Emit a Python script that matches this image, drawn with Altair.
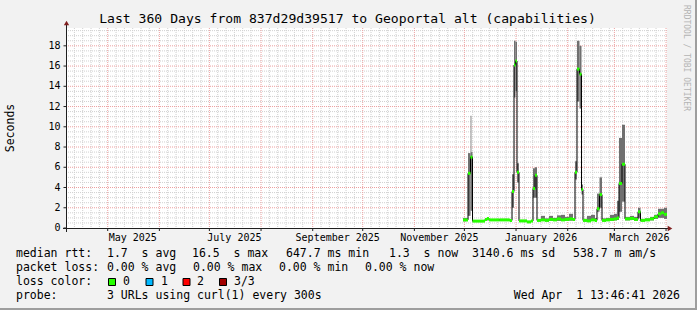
import altair as alt
import pandas as pd
from datetime import datetime, timedelta

# ---------------- data ----------------
WINDOW_END = datetime(2026, 4, 1, 13, 46, 41)
SPAN_DAYS = 360
WINDOW_START = WINDOW_END - timedelta(days=SPAN_DAYS)

# step boundaries, in days since the start of the 360-day window
step_edges = [237.6, 239.4, 240.6, 242.1, 243.3, 250.8, 252.0, 253.2, 259.5, 265.8,
              267.0, 268.2, 269.1, 270.0, 271.2, 276.0, 278.4, 279.6, 280.8, 282.0,
              284.4, 286.8, 289.2, 291.6, 294.0, 296.4, 298.8, 301.2, 303.6, 304.8,
              306.0, 307.5, 308.7, 309.6, 312.0, 314.4, 316.8, 318.0, 319.5, 321.0,
              323.4, 325.8, 328.2, 330.0, 331.2, 333.0, 334.8, 337.8, 340.2, 342.6,
              344.1, 346.8, 349.8, 352.2, 354.6, 356.4, 358.2, 360.0]
# median rtt per step (seconds)
median_s = [0.80, 0.80, 5.4, 7.0, 0.68, 0.85, 0.95, 0.80, 0.80, 0.75,
            3.6, 16.1, 16.5, 5.5, 0.70, 0.60, 0.70, 3.9, 5.2, 0.75,
            0.80, 0.75, 0.85, 0.80, 0.90, 0.80, 0.85, 0.90, 0.85, 5.5,
            15.7, 15.2, 3.8, 0.75, 0.70, 0.80, 0.75, 1.9, 3.3, 0.75,
            0.80, 0.85, 0.90, 1.0, 4.4, 6.3, 0.90, 0.95, 0.85, 1.6,
            0.75, 0.80, 0.90, 1.1, 1.4, 1.5, 1.35]
# smoke (spread of the pings) per step
smoke_lo = [0.65, 0.70, 1.2, 1.7, 0.62, 0.70, 0.75, 0.70, 0.70, 0.65,
            2.0, 12.9, 13.5, 4.5, 0.62, 0.55, 0.62, 3.0, 3.0, 0.65,
            0.70, 0.65, 0.70, 0.70, 0.70, 0.70, 0.70, 0.72, 0.70, 4.8,
            12.5, 11.8, 3.3, 0.65, 0.62, 0.70, 0.65, 1.6, 2.0, 0.65,
            0.70, 0.70, 0.75, 0.80, 1.6, 2.6, 0.75, 0.80, 0.72, 1.0,
            0.65, 0.70, 0.75, 0.90, 1.0, 1.0, 0.90]
smoke_hi = [1.0, 1.0, 7.4, 7.5, 0.76, 0.95, 1.05, 0.88, 0.90, 0.90,
            5.3, 18.5, 18.4, 6.4, 0.80, 0.70, 0.80, 5.9, 6.0, 0.85,
            1.2, 0.95, 1.2, 1.0, 1.25, 1.3, 1.1, 1.4, 1.0, 6.6,
            18.5, 18.0, 4.3, 0.90, 1.2, 1.3, 1.0, 3.4, 5.0, 0.95,
            1.0, 1.3, 1.4, 2.7, 8.9, 10.2, 1.1, 1.2, 1.1, 2.0,
            0.90, 0.95, 1.1, 1.3, 1.9, 1.9, 2.0]
# single-sample peaks above the smoke
peak_day = [242.4]
peak_s = [11.1]

y_ticks = [0, 2, 4, 6, 8, 10, 12, 14, 16, 18]
label_months = [(2025, 5), (2025, 7), (2025, 9), (2025, 11), (2026, 1), (2026, 3)]
month_names = ["May 2025", "July 2025", "September 2025", "November 2025",
               "January 2026", "March 2026"]
minor_month_days = [6, 11, 16, 21, 26]
Y_MAX = 19.76

loss_labels = ["0", "1", "2", "3/3"]
loss_colors = ["#26ff00", "#00b8ff", "#ff0000", "#a10000"]

NB = "\u00a0"
legend_rtt = ["1.7" + NB + NB + "s avg", "16.5" + NB + NB + "s max", "647.7 ms min",
              "1.3" + NB + NB + "s now", "3140.6 ms sd", "538.7 m am/s"]
legend_loss = ["0.00 % avg", "0.00 % max", "0.00 % min", "0.00 % now"]
probe_text = "3 URLs using curl(1) every 300s"
stamp_text = "Wed Apr" + NB + NB + "1 13:46:41 2026"
title_text = "Last 360 Days from 837d29d39517 to Geoportal alt (capabilities)"

# ---------------- helpers ----------------
W, H = 600, 200
PAD_L, PAD_T, PAD_R, PAD_B = 67, 28, 30, 82
MONO = "DejaVu Sans Mono"
ONE = pd.DataFrame({"k": [0]})


def day_of(dt):
    return (dt - WINDOW_START).total_seconds() / 86400.0


def px(x):
    return x - PAD_L


def py(y):
    return y - PAD_T


X_SCALE = alt.Scale(domain=[0, SPAN_DAYS], nice=False, zero=False)
Y_SCALE = alt.Scale(domain=[0, Y_MAX], nice=False, zero=False)


def text(s, x, y, size=11.5, align="left", color="#000000", angle=None):
    kw = dict(text=s, font=MONO, fontSize=size, align=align, baseline="middle", color=color)
    if angle is not None:
        kw["angle"] = angle
    return alt.Chart(ONE).mark_text(**kw).encode(x=alt.value(px(x)), y=alt.value(py(y)))


def box(x0, x1, y0, y1, fill, stroke=None):
    kw = dict(color=fill)
    if stroke:
        kw = dict(fill=fill, stroke=stroke, strokeWidth=1)
    return alt.Chart(ONE).mark_rect(**kw).encode(
        x=alt.value(px(x0)), x2=alt.value(px(x1)), y=alt.value(py(y0)), y2=alt.value(py(y1)))


# ---------------- tables ----------------
steps = pd.DataFrame({
    "start": step_edges[:-1], "end": step_edges[1:],
    "med": median_s, "lo": smoke_lo, "hi": smoke_hi,
})
line_df = pd.DataFrame({"d": step_edges, "med": median_s + [median_s[-1]]})
peaks = pd.DataFrame({"start": [d - 0.3 for d in peak_day], "end": [d + 0.3 for d in peak_day],
                      "lo": [smoke_hi[next(i for i, e in enumerate(step_edges[1:]) if e > d)] for d in peak_day],
                      "hi": peak_s})

month_starts = []
y, m = WINDOW_START.year, WINDOW_START.month
while True:
    dt = datetime(y, m, 1)
    if dt > WINDOW_END:
        break
    if dt >= WINDOW_START:
        month_starts.append(day_of(dt))
    m += 1
    if m > 12:
        m, y = 1, y + 1

minor_days = []
y, m = WINDOW_START.year, WINDOW_START.month
while True:
    if datetime(y, m, 1) > WINDOW_END:
        break
    for dd in minor_month_days:
        dt = datetime(y, m, dd)
        if WINDOW_START <= dt <= WINDOW_END:
            minor_days.append(day_of(dt))
    m += 1
    if m > 12:
        m, y = 1, y + 1

labels_df = pd.DataFrame({
    "d": [day_of(datetime(yy, mm, 1)) + 15 for yy, mm in label_months],
    "name": month_names,
})
major_y = [v for v in y_ticks if v > 0]
minor_y = [v / 2 for v in range(1, int(Y_MAX * 2) + 1) if (v / 2) % 2 != 0]
yt_df = pd.DataFrame({"v": y_ticks, "lab": [str(v) for v in y_ticks]})

# ---------------- layers ----------------
GRID_MINOR = "#d0d0d0"
GRID_MAJOR = "#eda0a0"

minor_h = alt.Chart(pd.DataFrame({"v": minor_y})).mark_rule(
    color=GRID_MINOR, strokeDash=[1, 1], strokeWidth=1).encode(
    y=alt.Y("v:Q", scale=Y_SCALE, axis=None))
minor_v = alt.Chart(pd.DataFrame({"d": minor_days})).mark_rule(
    color=GRID_MINOR, strokeDash=[1, 1], strokeWidth=1).encode(
    x=alt.X("d:Q", scale=X_SCALE, axis=None))
major_h = alt.Chart(pd.DataFrame({"v": major_y})).mark_rule(
    color=GRID_MAJOR, strokeDash=[1, 1], strokeWidth=1).encode(
    y=alt.Y("v:Q", scale=Y_SCALE, axis=None))
major_v = alt.Chart(pd.DataFrame({"d": month_starts})).mark_rule(
    color=GRID_MAJOR, strokeDash=[1, 1], strokeWidth=1).encode(
    x=alt.X("d:Q", scale=X_SCALE, axis=None))

smoke = alt.Chart(steps).mark_rect(color="#707070").encode(
    x=alt.X("start:Q", scale=X_SCALE, axis=None), x2="end:Q",
    y=alt.Y("lo:Q", scale=Y_SCALE, axis=None), y2="hi:Q")
peak = alt.Chart(peaks).mark_rect(color="#8a8a8a").encode(
    x=alt.X("start:Q", scale=X_SCALE, axis=None), x2="end:Q",
    y=alt.Y("lo:Q", scale=Y_SCALE, axis=None), y2="hi:Q")
med_line = alt.Chart(line_df).mark_line(interpolate="step-after", color="#000000", strokeWidth=1).encode(
    x=alt.X("d:Q", scale=X_SCALE, axis=None), y=alt.Y("med:Q", scale=Y_SCALE, axis=None))
med_green = alt.Chart(steps).mark_rule(color="#26ff00", strokeWidth=3).encode(
    x=alt.X("start:Q", scale=X_SCALE, axis=None), x2="end:Q",
    y=alt.Y("med:Q", scale=Y_SCALE, axis=None))

y_tick_marks = alt.Chart(yt_df).mark_rule(color="#1f1f1f").encode(
    y=alt.Y("v:Q", scale=Y_SCALE, axis=None), x=alt.value(px(63.5)), x2=alt.value(px(67)))
y_tick_labels = alt.Chart(yt_df).mark_text(
    font=MONO, fontSize=10, align="right", baseline="middle", color="#000000").encode(
    y=alt.Y("v:Q", scale=Y_SCALE, axis=None), x=alt.value(px(60.5)), text="lab:N")

x_ticks = alt.Chart(pd.DataFrame({"d": month_starts})).mark_rule(color="#1f1f1f").encode(
    x=alt.X("d:Q", scale=X_SCALE, axis=None), y=alt.value(H), y2=alt.value(H + 3))
x_labels = alt.Chart(labels_df).mark_text(
    font=MONO, fontSize=10, baseline="middle", align="center", color="#000000").encode(
    x=alt.X("d:Q", scale=X_SCALE, axis=None), y=alt.value(py(238)), text="name:N")

x_axis_line = alt.Chart(ONE).mark_rule(color="#1f1f1f").encode(
    x=alt.value(px(63)), x2=alt.value(px(668)), y=alt.value(py(228.5)))
y_axis_line = alt.Chart(ONE).mark_rule(color="#1f1f1f").encode(
    x=alt.value(px(66.5)), y=alt.value(py(232)), y2=alt.value(py(24)))
x_arrow = alt.Chart(ONE).mark_point(shape="triangle-right", filled=True, size=28,
                                    color="#801f1f", opacity=1).encode(
    x=alt.value(px(670)), y=alt.value(py(228.5)))
y_arrow = alt.Chart(ONE).mark_point(shape="triangle-up", filled=True, size=28,
                                    color="#801f1f", opacity=1).encode(
    x=alt.value(px(66.5)), y=alt.value(py(23)))

decor = [
    box(695, 697, 0, 310, "#9e9e9e"),
    box(0, 697, 308, 310, "#9e9e9e"),
    text(title_text, 347.5, 19, size=13.1, align="center"),
    text("Seconds", 11, 128, size=11.5, align="center", angle=270),
    text("RRDTOOL / TOBI OETIKER", 686, 5, size=8, align="left", color="#b4b4b4", angle=90),
    text("median rtt:", 16, 254),
    text("packet loss:", 16, 268),
    text("loss color:", 16, 282),
    text("probe:", 16, 296), text(probe_text, 107, 296),
    text(stamp_text, 680, 296, align="right"),
]
for s, xx in zip(legend_rtt, [107, 192, 286, 389, 472, 573]):
    decor.append(text(s, xx, 254))
for s, xx in zip(legend_loss, [107, 193, 279, 365]):
    decor.append(text(s, xx, 268))
sw_x = [108.5, 146, 183, 219.5]
lab_x = [123, 161, 197, 234]
for i, (lbl, col) in enumerate(zip(loss_labels, loss_colors)):
    decor.append(box(sw_x[i], sw_x[i] + 7, 278.5, 285.5, col, stroke="#000000"))
    decor.append(text(lbl, lab_x[i], 282))

chart = alt.layer(
    minor_h, minor_v, major_h, major_v,
    smoke, peak, med_line, med_green,
    y_tick_marks, y_tick_labels,
    x_ticks, x_labels, x_axis_line, y_axis_line, x_arrow, y_arrow,
    *decor,
).properties(
    width=W, height=H,
    autosize=alt.AutoSizeParams(type="none"),
    padding={"left": PAD_L, "top": PAD_T, "right": PAD_R, "bottom": PAD_B},
    background="#f2f2f2",
).configure_view(stroke=None, fill="#ffffff")

chart.save("out.html", embed_options={"renderer": "svg", "actions": False})
